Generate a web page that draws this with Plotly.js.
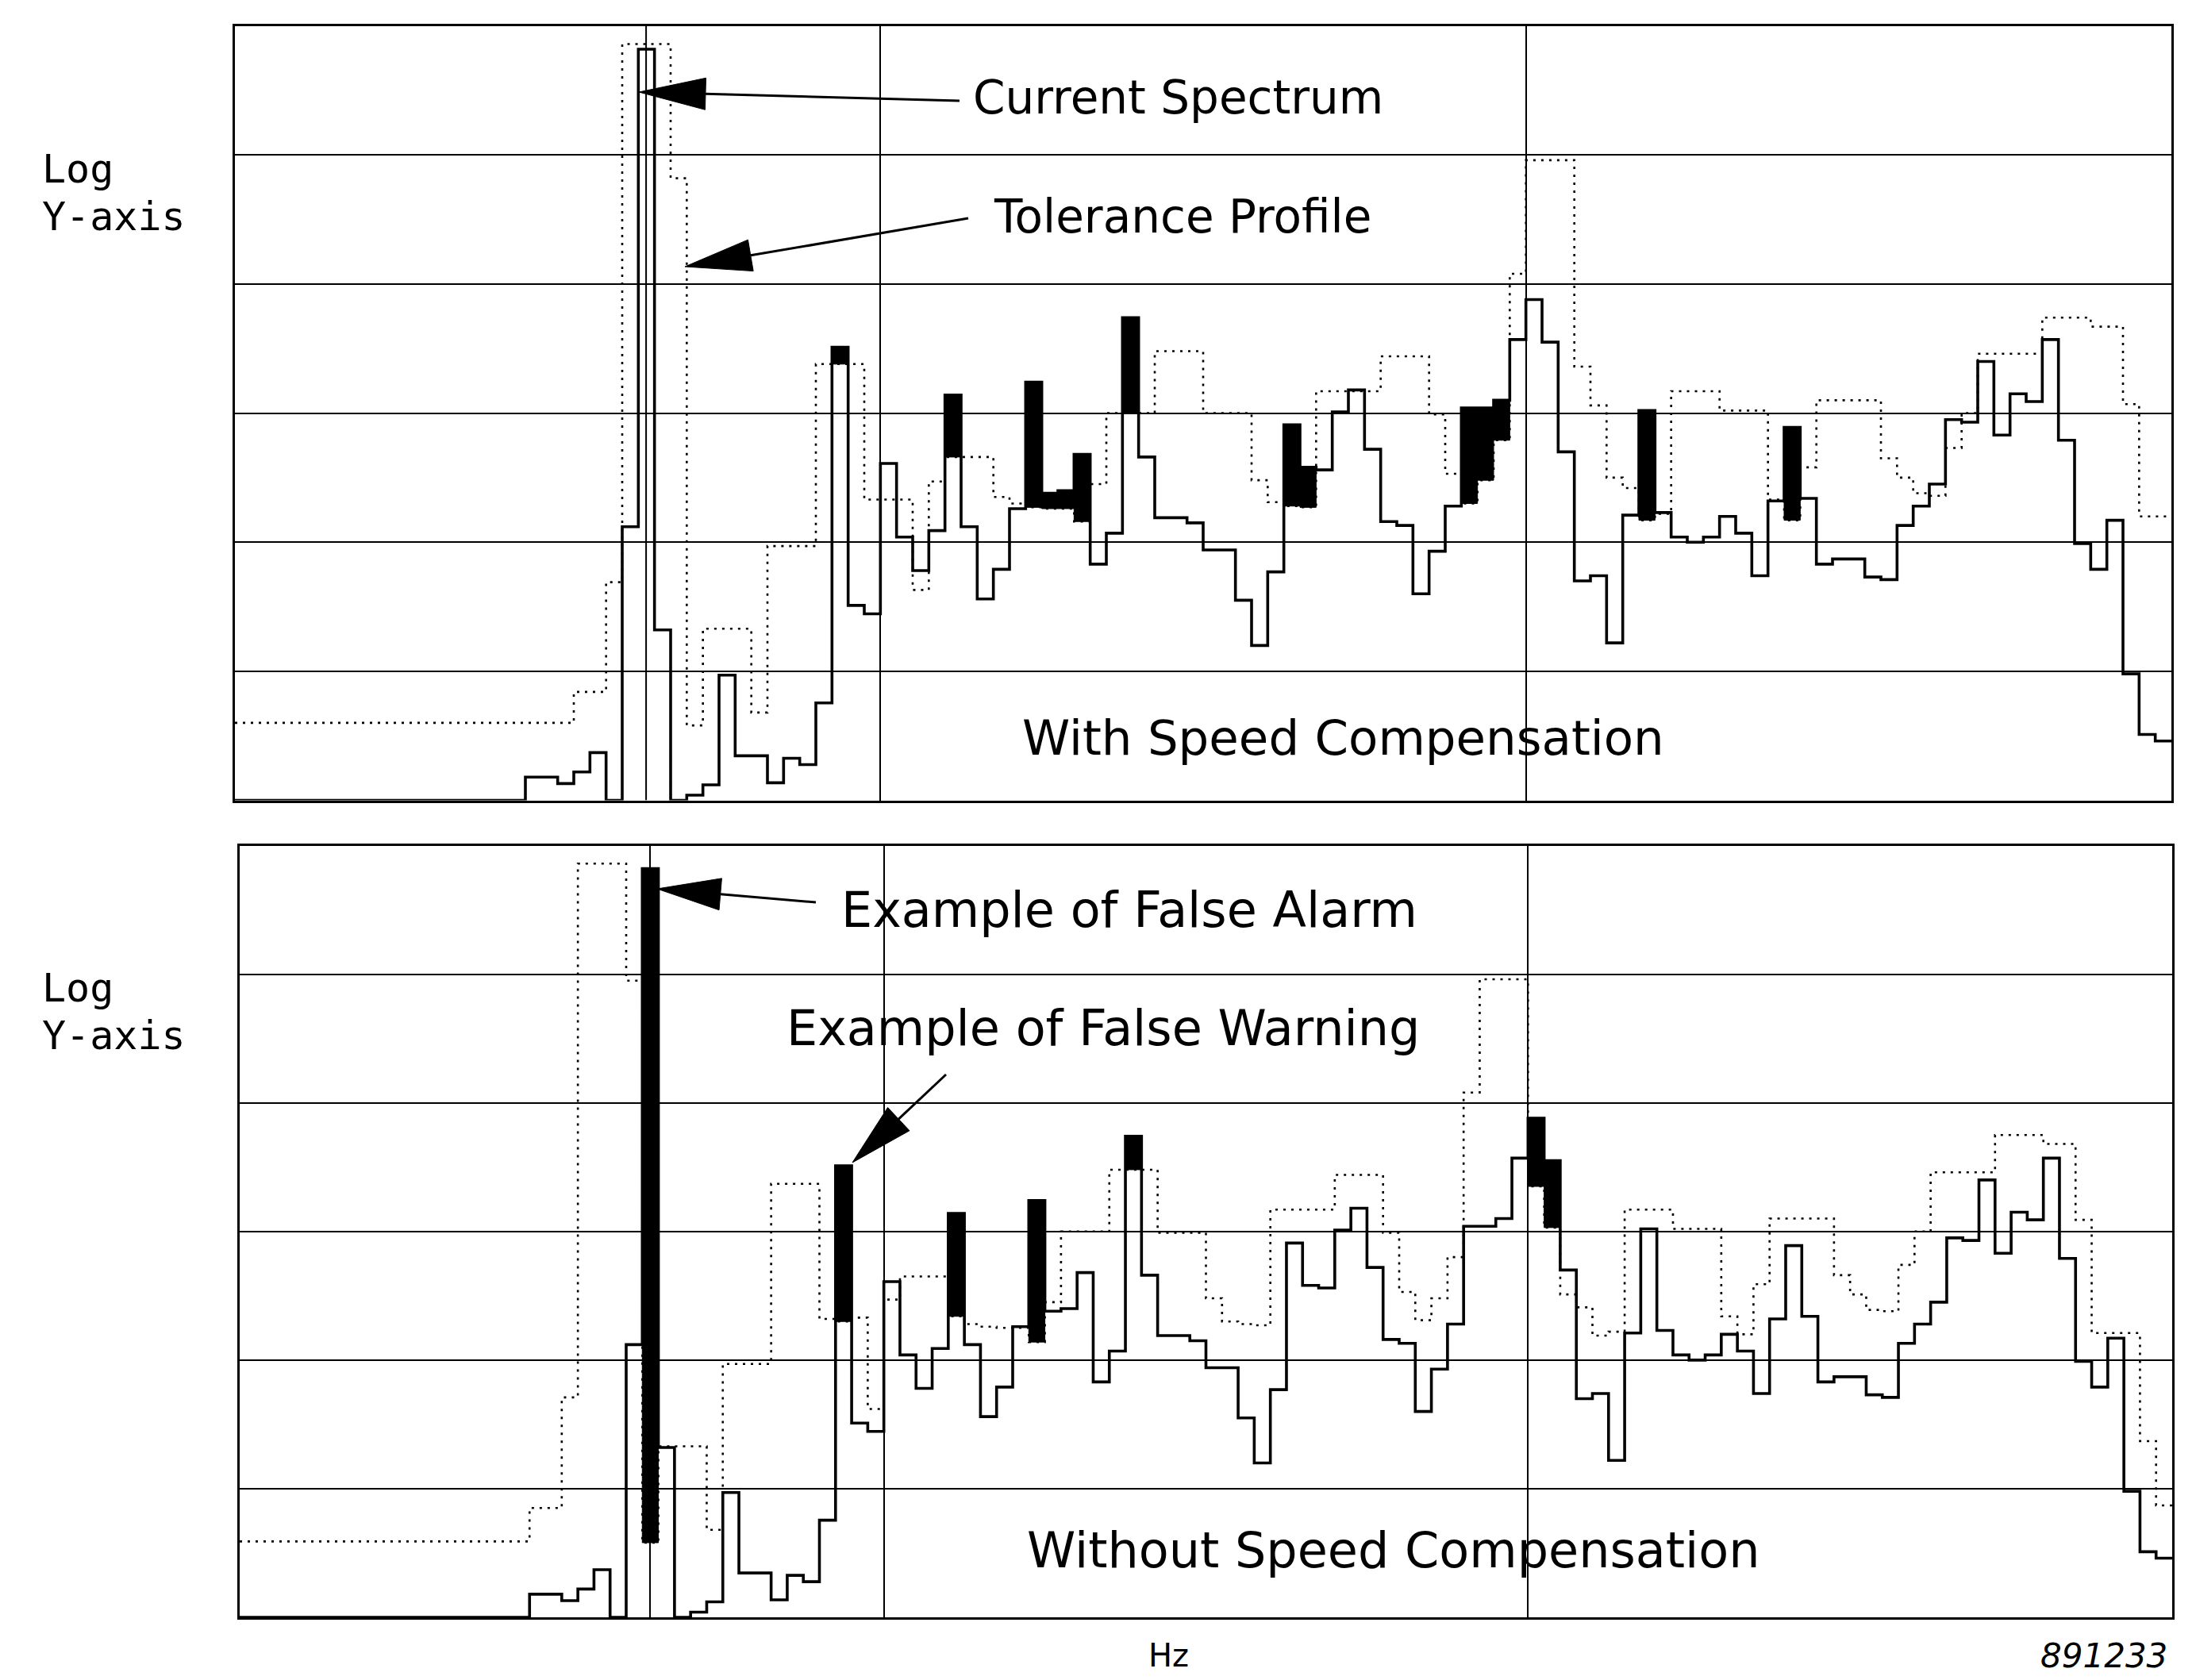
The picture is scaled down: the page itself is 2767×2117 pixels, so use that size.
<!DOCTYPE html>
<html>
<head>
<meta charset="utf-8">
<script src="https://cdn.plot.ly/plotly-3.0.1.min.js"></script>
<style>
html,body{margin:0;padding:0;background:#ffffff;}
#chart{width:2767px;height:2117px;}
</style>
</head>
<body>
<div id="chart"></div>
<script>
// ---------------- data ----------------
// Spectrum lines: each value is one frequency line (bin), log amplitude in grid divisions (0..6).
const BIN_WIDTH = 2.5;          // frequency units per spectral line (300 units full scale)
const FREQ_MAX = 300;

const currentSpectrum = [
  0,0,0,0,0,0,0,0,0,0,
  0,0,0,0,0,0,0,0,0.18,0.18,
  0.13,0.22,0.37,0,2.12,5.82,1.32,0,0.04,0.12,
  0.97,0.345,0.345,0.136,0.326,0.277,0.755,3.51,1.51,1.445,
  2.61,2.04,1.78,2.09,3.14,2.12,1.56,1.79,2.26,3.24,
  2.38,2.40,2.68,1.83,2.07,3.74,2.66,2.19,2.19,2.15,
  1.94,1.94,1.55,1.20,1.77,2.91,2.58,2.56,3.01,3.18,
  2.72,2.16,2.13,1.60,1.93,2.28,3.04,3.04,3.10,3.57,
  3.88,3.55,2.70,1.70,1.74,1.22,2.21,3.02,2.23,2.04,
  2.00,2.04,2.20,2.07,1.74,2.32,2.89,2.34,1.83,1.87,
  1.87,1.73,1.71,2.13,2.28,2.45,2.95,2.93,3.40,2.83,
  3.15,3.09,3.57,2.79,1.99,1.79,2.17,0.98,0.51,0.46
];

const toleranceWith = [
  0.60,0.60,0.60,0.60,0.60,0.60,0.60,0.60,0.60,0.60,
  0.60,0.60,0.60,0.60,0.60,0.60,0.60,0.60,0.60,0.60,
  0.60,0.84,0.84,1.69,5.86,5.86,5.86,4.82,0.58,1.33,
  1.33,1.33,0.68,1.97,1.97,1.97,3.38,3.38,3.38,2.33,
  2.33,2.33,1.63,2.47,2.66,2.66,2.66,2.35,2.30,2.27,
  2.26,2.26,2.16,2.45,3.00,3.00,3.00,3.48,3.48,3.48,
  3.00,3.00,3.00,2.48,2.31,2.28,2.27,3.17,3.17,3.17,
  3.17,3.44,3.44,3.44,2.99,2.53,2.30,2.48,2.79,4.08,
  4.96,4.96,4.96,3.36,3.06,2.50,2.42,2.17,2.22,3.17,
  3.17,3.17,3.02,3.02,3.02,2.33,2.17,2.58,3.10,3.10,
  3.10,3.10,2.65,2.50,2.38,2.36,2.73,3.00,3.46,3.46,
  3.46,3.46,3.74,3.74,3.74,3.67,3.67,3.07,2.20,2.20
];

const toleranceWithout = [
  0.59,0.59,0.59,0.59,0.59,0.59,0.59,0.59,0.59,0.59,
  0.59,0.59,0.59,0.59,0.59,0.59,0.59,0.59,0.85,0.85,
  1.71,5.86,5.86,5.86,4.95,0.58,1.33,1.33,1.33,0.68,
  1.97,1.97,1.97,3.37,3.37,3.37,2.32,2.30,2.33,1.62,
  2.47,2.65,2.65,2.65,2.34,2.28,2.26,2.25,2.25,2.14,
  2.45,3.00,3.00,3.00,3.48,3.48,3.48,2.99,2.99,2.99,
  2.48,2.30,2.28,2.27,3.17,3.17,3.17,3.17,3.44,3.44,
  3.44,2.99,2.53,2.31,2.48,2.80,4.08,4.96,4.96,4.96,
  3.35,3.03,2.51,2.41,2.19,2.22,3.17,3.17,3.17,3.02,
  3.02,3.02,2.34,2.20,2.59,3.10,3.10,3.10,3.10,2.66,
  2.51,2.39,2.38,2.74,3.00,3.46,3.46,3.46,3.46,3.75,
  3.75,3.75,3.68,3.68,3.09,2.21,2.21,2.21,1.37,0.87
];

// lines flagged as exceeding the profile (drawn filled black)
const exceedWith    = [37,44,49,50,51,52,55,65,66,76,77,78,87,96];
const exceedWithout = [25,37,44,49,55,80,81];

const markerFreq = 63.7;   // vertical cursor line through the main peak

const panelLabels = ["With Speed Compensation", "Without Speed Compensation"];

// ---------------- helpers ----------------
function stepXY(vals){
  const x = [], y = [];
  vals.forEach((v,k)=>{ x.push(k*BIN_WIDTH); y.push(v); });
  x.push(vals.length*BIN_WIDTH); y.push(vals[vals.length-1]);
  return {x, y};
}
function fillXY(cur, tol, bins){
  const x = [], y = [];
  bins.forEach(k=>{
    const x0 = k*BIN_WIDTH, x1 = (k+1)*BIN_WIDTH;
    x.push(x0,x1,x1,x0,x0,null);
    y.push(tol[k],tol[k],cur[k],cur[k],tol[k],null);
  });
  return {x, y};
}

const W = 2767, H = 2117;
const px = v => v / W;
const py = v => 1 - v / H;

function panelTraces(tol, bins, xa, ya){
  const f = fillXY(currentSpectrum, tol, bins);
  const t = stepXY(tol);
  const c = stepXY(currentSpectrum);
  return [
    {type:'scatter', mode:'lines', x:f.x, y:f.y, xaxis:xa, yaxis:ya, fill:'toself',
     fillcolor:'#000', line:{color:'#000', width:1}, hoverinfo:'skip', connectgaps:false},
    {type:'scatter', mode:'lines', x:t.x, y:t.y, xaxis:xa, yaxis:ya,
     line:{color:'#000', width:2.6, shape:'hv', dash:'3px,7px'}, hoverinfo:'skip'},
    {type:'scatter', mode:'lines', x:c.x, y:c.y, xaxis:xa, yaxis:ya,
     line:{color:'#000', width:3.6, shape:'hv'}, hoverinfo:'skip'}
  ];
}

const data = [
  ...panelTraces(toleranceWith, exceedWith, 'x', 'y'),
  ...panelTraces(toleranceWithout, exceedWithout, 'x2', 'y2')
];

function axisX(domain, anchor){
  return {domain, anchor, range:[0, FREQ_MAX], dtick:100, tick0:0, showgrid:true,
    gridcolor:'#000', gridwidth:2, showline:true, linecolor:'#000', linewidth:3,
    mirror:true, ticks:'', showticklabels:false, zeroline:false, fixedrange:true};
}
function axisY(domain, anchor){
  return {domain, anchor, range:[0, 6], dtick:1, tick0:0, showgrid:true,
    gridcolor:'#000', gridwidth:2, showline:true, linecolor:'#000', linewidth:3,
    mirror:true, ticks:'', showticklabels:false, zeroline:false, fixedrange:true};
}

// arrows (figure pixel positions -> paper)
function arrowShapes(tail, tip, len, hw){
  const dx = tip[0]-tail[0], dy = tip[1]-tail[1];
  const L = Math.hypot(dx, dy), ux = dx/L, uy = dy/L;
  const bx = tip[0]-ux*len, by = tip[1]-uy*len;
  const nx = -uy, ny = ux;
  const p1 = [bx+nx*hw, by+ny*hw], p2 = [bx-nx*hw, by-ny*hw];
  return [
    {type:'line', xref:'paper', yref:'paper', x0:px(tail[0]), y0:py(tail[1]), x1:px(bx), y1:py(by),
     line:{color:'#000', width:3}},
    {type:'path', xref:'paper', yref:'paper',
     path:`M${px(tip[0])},${py(tip[1])} L${px(p1[0])},${py(p1[1])} L${px(p2[0])},${py(p2[1])} Z`,
     fillcolor:'#000', line:{color:'#000', width:1}}
  ];
}

const shapes = [
  {type:'line', xref:'x', yref:'y', x0:markerFreq, x1:markerFreq, y0:0, y1:6, line:{color:'#000', width:2}},
  {type:'line', xref:'x2', yref:'y2', x0:markerFreq, x1:markerFreq, y0:0, y1:6, line:{color:'#000', width:2}},
  ...arrowShapes([1209,127],[805,116],84,20),
  ...arrowShapes([1220,275],[863,336],84,20),
  ...arrowShapes([1028,1137],[828,1120],80,20),
  ...arrowShapes([1192,1354],[1074,1465],80,20)
];

const sans = 'DejaVu Sans, Liberation Sans, sans-serif';
const mono = 'DejaVu Sans Mono, Liberation Mono, monospace';
function txt(text, x, y, size, fam, anchor){
  return {text, xref:'paper', yref:'paper', x:px(x), y:py(y), xanchor:anchor||'center',
    yanchor:'middle', showarrow:false, borderpad:0, font:{family:fam||sans, size, color:'#000'}};
}

const annotations = [
  txt('Current Spectrum', 1484, 123, 58),
  txt('Tolerance Profile', 1490, 273, 58),
  txt(panelLabels[0], 1692, 930, 61),
  txt('Example of False Alarm', 1423, 1146, 62),
  txt('Example of False Warning', 1390, 1295, 62),
  txt(panelLabels[1], 1756, 1953, 62),
  txt('Log', 52, 213, 50, mono, 'left'),
  txt('Y-axis', 52, 273, 50, mono, 'left'),
  txt('Log', 52, 1245, 50, mono, 'left'),
  txt('Y-axis', 52, 1305, 50, mono, 'left'),
  txt('Hz', 1472, 2086, 40),
  txt('<i>891233</i>', 2651, 2086, 42)
];

const layout = {
  width: W, height: H,
  margin:{l:0, r:0, t:0, b:0},
  paper_bgcolor:'#ffffff', plot_bgcolor:'#ffffff',
  showlegend:false,
  xaxis:  axisX([px(296), px(2736)], 'y'),
  yaxis:  axisY([py(1008.5), py(32.7)], 'x'),
  xaxis2: axisX([px(302), px(2737)], 'y2'),
  yaxis2: axisY([py(2038), py(1065.5)], 'x2'),
  shapes, annotations
};

Plotly.newPlot('chart', data, layout, {staticPlot:true, displayModeBar:false});
</script>
</body>
</html>
